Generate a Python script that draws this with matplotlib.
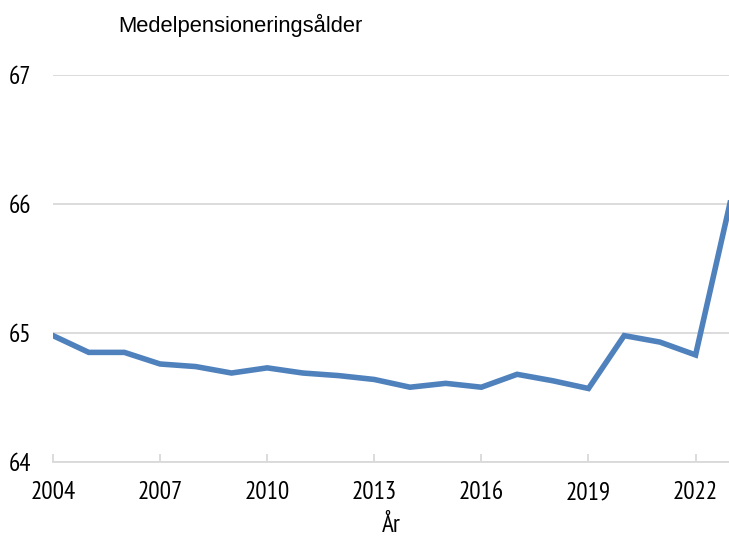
import matplotlib
matplotlib.use('Agg')
import matplotlib.pyplot as plt

# ----------------------------------------------------------------
# Data
# ----------------------------------------------------------------
years = list(range(2004, 2024))
age = [64.98, 64.85, 64.85, 64.76, 64.74, 64.69, 64.73, 64.69, 64.67, 64.64,
       64.58, 64.61, 64.58, 64.68, 64.63, 64.57, 64.98, 64.93, 64.83, 66.05]
xticks = [2004, 2007, 2010, 2013, 2016, 2019, 2022]
yticks = [64, 65, 66, 67]

NARROW = ['PT Sans Narrow', 'DejaVu Sans']
GRID = '#d9d9d9'

# ----------------------------------------------------------------
# Plot
# ----------------------------------------------------------------
fig = plt.figure(figsize=(7.29, 5.36), dpi=100)
ax = fig.add_axes([0.0727, 0.138, 0.927, 0.722])

ax.plot(years, age, color='#4f81bd', lw=4.0, solid_joinstyle='miter')

ax.set_xlim(2004, 2022.93)
ax.set_ylim(64, 67)
ax.set_xticks(xticks)
ax.set_yticks(yticks)
ax.set_xticklabels([str(x) for x in xticks], family=NARROW, fontsize=18)
ax.set_yticklabels([str(y) for y in yticks], family=NARROW, fontsize=18)
ax.set_xlabel('År', family=NARROW, fontsize=18, labelpad=7)

ax.grid(axis='y', color=GRID, lw=1.3)
ax.set_axisbelow(True)
for s in ['top', 'right', 'left']:
    ax.spines[s].set_visible(False)
ax.spines['bottom'].set_color(GRID)
ax.spines['bottom'].set_linewidth(1.3)
ax.tick_params(axis='x', direction='in', length=6, color=GRID, width=1.3, pad=14)
ax.tick_params(axis='y', length=0, pad=16)

fig.text(0.162, 0.953, 'Medelpensioneringsålder', family='Liberation Sans',
         fontsize=15.8, va='center', ha='left')

plt.savefig('out.png', dpi=100)
